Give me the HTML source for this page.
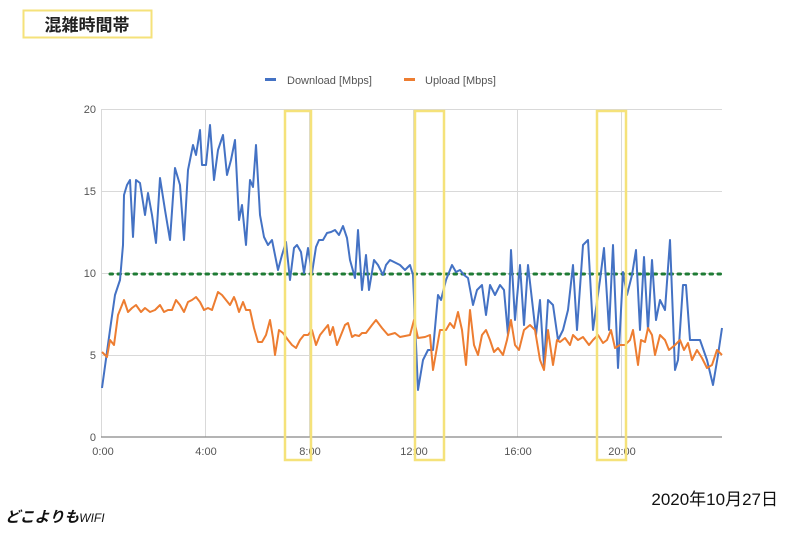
<!DOCTYPE html>
<html><head><meta charset="utf-8"><style>
html,body{margin:0;padding:0;background:#fff;width:800px;height:533px;overflow:hidden}
svg{display:block}
</style></head><body>
<svg width="800" height="533" viewBox="0 0 800 533" xmlns="http://www.w3.org/2000/svg" font-family="Liberation Sans, Noto Sans CJK JP, sans-serif">
<rect x="23.5" y="10.5" width="128" height="27" fill="#fff" stroke="#f5e27a" stroke-width="2"/>
<text x="87" y="31" font-size="17" font-weight="bold" text-anchor="middle" fill="#222" font-family="Noto Sans CJK JP, sans-serif">混雑時間帯</text>
<rect x="265" y="78" width="11" height="3" fill="#4472c4"/>
<text x="287" y="84" font-size="11" fill="#555">Download [Mbps]</text>
<rect x="404" y="78" width="11" height="3" fill="#ed7d31"/>
<text x="425" y="84" font-size="11" fill="#555">Upload [Mbps]</text>
<g stroke="#d9d9d9" stroke-width="1">
<line x1="101" y1="109.5" x2="722" y2="109.5"/>
<line x1="101" y1="191.5" x2="722" y2="191.5"/>
<line x1="101" y1="273.5" x2="722" y2="273.5"/>
<line x1="101" y1="355.5" x2="722" y2="355.5"/>
<line x1="101.5" y1="109" x2="101.5" y2="437"/>
<line x1="205.5" y1="109" x2="205.5" y2="437"/>
<line x1="309.5" y1="109" x2="309.5" y2="437"/>
<line x1="413.5" y1="109" x2="413.5" y2="437"/>
<line x1="517.5" y1="109" x2="517.5" y2="437"/>
<line x1="621.5" y1="109" x2="621.5" y2="437"/>
</g>
<line x1="101" y1="437" x2="722" y2="437" stroke="#888" stroke-width="1.2"/>
<g font-size="11" fill="#555" text-anchor="end">
<text x="96" y="113">20</text><text x="96" y="195">15</text><text x="96" y="277">10</text><text x="96" y="359">5</text><text x="96" y="441">0</text>
</g>
<g font-size="11" fill="#555" text-anchor="middle">
<text x="103" y="455">0:00</text><text x="206" y="455">4:00</text><text x="310" y="455">8:00</text><text x="414" y="455">12:00</text><text x="518" y="455">16:00</text><text x="622" y="455">20:00</text>
</g>
<line x1="110" y1="274" x2="722" y2="274" stroke="#1e7b34" stroke-width="3" stroke-dasharray="2.5 5.5" stroke-linecap="round"/>
<polyline fill="none" stroke="#4472c4" stroke-width="2" stroke-linejoin="round" points="102,388 110,330 115,295 120,280 123,245 124,195 127,185 130,180 133,237 136,180 140,183 145,215 148,193 152,215 156,243 160,178 165,210 170,240 175,168 180,185 184,240 188,170 193,145 196,155 200,130 202,165 206,165 210,125 214,180 218,150 223,135 227,175 231,160 235,140 239,220 242,205 246,245 250,180 253,187 256,145 260,215 264,237 268,245 272,240 278,270 282,255 286,242 290,280 294,248 297,245 301,252 304,273 308,248 312,273 316,247 319,240 323,240 327,233 331,232 335,230 339,235 343,226 347,238 350,260 355,278 358,230 362,290 366,255 369,290 374,260 378,265 383,275 386,265 390,260 400,265 405,270 410,265 413,275 418,390 423,360 428,350 433,350 438,295 441,300 446,280 452,265 456,272 460,270 464,275 468,278 473,305 477,290 482,285 486,315 490,285 495,295 500,285 504,290 508,335 511,250 515,320 520,265 524,325 528,265 532,300 536,335 540,300 544,365 548,300 553,305 558,340 563,330 568,310 573,265 577,330 583,245 588,240 593,330 600,280 604,248 609,330 613,245 618,368 623,272 627,295 632,275 636,250 640,330 644,257 648,330 652,260 656,320 660,300 665,310 670,240 675,370 678,360 683,285 686,285 690,340 695,340 700,340 707,360 713,385 718,355 722,328"/>
<polyline fill="none" stroke="#ed7d31" stroke-width="2" stroke-linejoin="round" points="102,352 107,357 110,340 114,345 118,315 124,300 128,312 132,308 136,305 141,312 145,308 150,312 155,310 160,305 164,312 168,310 172,310 176,300 180,305 184,312 188,302 192,300 196,297 200,302 204,310 208,308 212,310 218,292 222,295 226,300 230,305 234,297 236,302 239,312 243,302 246,310 250,310 254,328 258,342 262,342 266,335 270,320 273,338 275,355 279,330 283,333 288,340 292,345 296,348 300,340 304,335 308,335 312,330 316,345 320,335 324,330 328,325 330,335 333,327 337,345 341,335 345,325 348,323 352,337 355,335 359,336 362,333 366,333 372,325 376,320 382,328 388,335 395,333 400,337 405,336 410,335 414,320 418,338 425,337 430,335 433,370 440,330 446,330 450,323 454,328 458,312 462,330 466,365 470,310 474,345 478,355 482,335 486,330 490,340 494,352 498,348 503,355 507,340 511,320 515,345 519,350 524,330 530,325 535,330 540,360 544,370 548,330 553,365 557,340 560,342 565,338 570,345 573,335 578,340 583,337 589,345 593,340 598,335 603,343 607,340 611,330 615,348 620,345 625,345 630,340 633,330 638,365 641,340 645,342 648,328 652,335 655,355 660,335 665,340 669,350 675,345 680,340 684,350 688,343 692,360 697,350 702,358 707,368 712,365 717,350 722,355"/>
<g fill="none" stroke="#f5e27a" stroke-width="2.5">
<rect x="285" y="111" width="26" height="349"/>
<rect x="415" y="111" width="29" height="349"/>
<rect x="597" y="111" width="29" height="349"/>
</g>
<text x="5" y="522" font-size="15" font-weight="bold" font-style="italic" fill="#111" font-family="Noto Sans CJK JP, sans-serif">どこよりも<tspan font-size="12" font-weight="normal" font-family="Liberation Sans, sans-serif">WIFI</tspan></text>
<text x="778" y="505" font-size="17" fill="#111" text-anchor="end" font-family="Liberation Sans, Noto Sans CJK JP, sans-serif">2020年10月27日</text>
</svg>
</body></html>
